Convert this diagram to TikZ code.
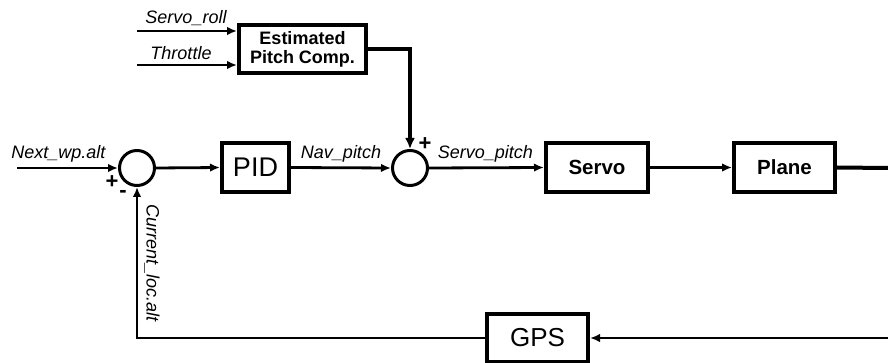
\documentclass[tikz,border=0pt]{standalone}
\usepackage{fontspec}
\setmainfont{Liberation Sans}
\usetikzlibrary{arrows.meta,calc}
\begin{document}
\begin{tikzpicture}[x=1pt,y=-1pt,
  blk/.style={draw,line width=4pt,rectangle,inner sep=0pt,minimum height=49pt},
  sumj/.style={draw,line width=3pt,circle,minimum size=35pt,inner sep=0pt},
  conn/.style={line width=2.8pt,-{Latex[length=10pt,width=8.5pt]}},
  thickconn/.style={line width=4pt},
  lbl/.style={font=\fontsize{18}{20}\selectfont\itshape,inner sep=1pt},
  sgn/.style={font=\fontsize{22}{22}\selectfont\bfseries,inner sep=0pt},
  bl/.style={font=\fontsize{18}{20}\selectfont\bfseries,align=center}
]
\useasboundingbox (0,0) rectangle (888,363);
% blocks
\node[blk,bl,minimum width=127pt,minimum height=48pt] (est) at (302.5,49) {Estimated\\[-1pt]Pitch Comp.};
\node[blk,minimum width=67pt,font=\fontsize{27}{30}\selectfont] (pid) at (255.5,167.5) {PID};
\node[blk,minimum width=102pt,font=\fontsize{20.5}{24}\selectfont\bfseries] (servo) at (597,167.5) {Servo};
\node[blk,minimum width=101pt,font=\fontsize{20.5}{24}\selectfont\bfseries] (plane) at (784.5,167.5) {Plane};
\node[blk,minimum width=101pt,minimum height=48pt,font=\fontsize{26}{30}\selectfont] (gps) at (537.5,338) {GPS};
\node[sumj] (s1) at (137,168) {};
\node[sumj] (s2) at (410,168) {};
% free ends
\coordinate (nw) at (17,168);
\coordinate (sr) at (137,31);
\coordinate (th) at (137,65);
\coordinate (rout) at (888,168);
\coordinate (rin) at (888,338);
% connectors
\draw[conn] (sr) -- node[lbl,above=3pt,pos=0.49] {Servo\_roll} (sr -| est.west);
\draw[conn] (th) -- node[lbl,above=3pt,pos=0.44] {Throttle} (th -| est.west);
\draw[conn] (nw) -- node[lbl,above=3pt,pos=0.41] {Next\_wp.alt} (s1.west);
\draw[conn] (s1.east) -- (pid.west);
\draw[conn] (pid.east) -- node[lbl,above=3pt,pos=0.5] {Nav\_pitch} (s2.west);
\draw[thickconn,-{Latex[length=11pt,width=10pt]}] (est.east) -| (s2.north);
\draw[conn] (s2.east) -- node[lbl,above=3pt,pos=0.49] {Servo\_pitch} (servo.west);
\draw[conn] (servo.east) -- (plane.west);
\draw[thickconn] (plane.east) -- (rout);
\draw[conn] (rin) -- (gps.east);
\draw[conn] (gps.west) -| (s1.south);
% signs and labels
\node[sgn] (p1) at (112,182) {+};
\node[sgn] (m1) at (123,194) {-};
\node[sgn] (p2) at (425,144) {+};
\node[lbl,rotate=-90] (cla) at (152,263) {Current\_loc.alt};
\end{tikzpicture}
\end{document}
